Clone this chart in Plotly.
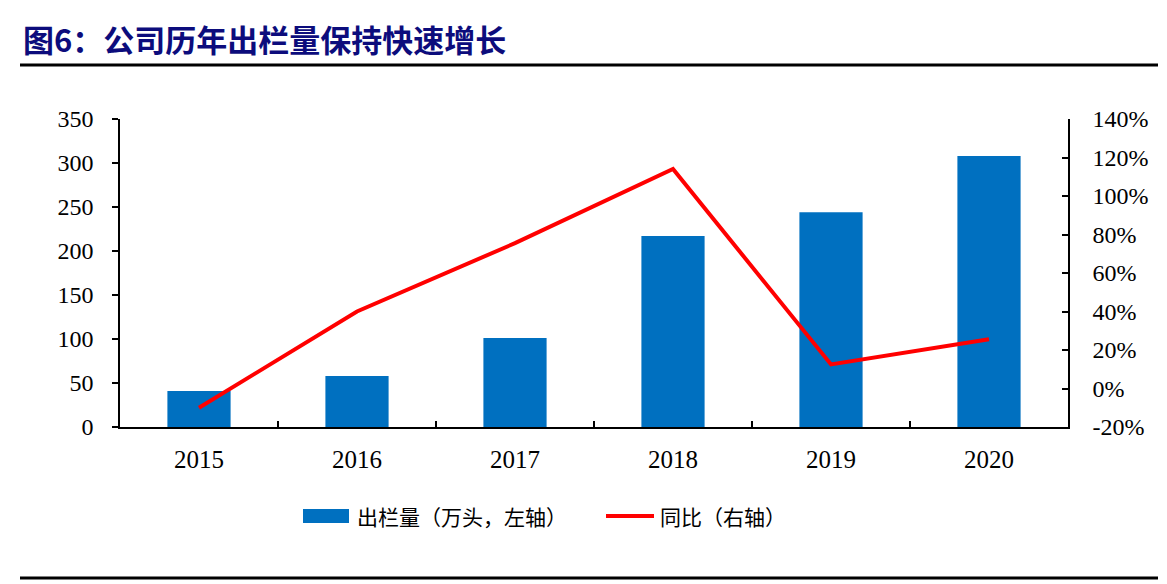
import plotly.graph_objects as go

years = ["2015", "2016", "2017", "2018", "2019", "2020"]
output_10k = [41, 58, 101, 217, 244, 308]          # 出栏量（万头）
yoy_pct = [-10, 40, 75.5, 114, 12.5, 25.6]         # 同比 (%)
right_ticks = [-20, 0, 20, 40, 60, 80, 100, 120, 140]

bar_name = "出栏量（万头，左轴）"
line_name = "同比（右轴）"
title_text = "图6：公司历年出栏量保持快速增长"

BLUE = "#0070C0"
RED = "#FF0000"
NAVY = "#0c0c7c"
SERIF = "Liberation Serif, Times New Roman, serif"
CJK = "Noto Sans CJK SC, Noto Sans, sans-serif"

fig = go.Figure()
fig.add_trace(go.Bar(x=years, y=output_10k, name=bar_name, marker=dict(color=BLUE, line=dict(width=0)),
                     width=0.4, yaxis="y", showlegend=False))
fig.add_trace(go.Scatter(x=years, y=yoy_pct, name=line_name, mode="lines",
                         line=dict(color=RED, width=4), yaxis="y2", showlegend=False))

W, H = 1167, 584
L, R, T, B = 120, 1068, 119, 427


def px(p):
    return (p - L) / (R - L)


def py(p):
    return (B - p) / (B - T)


shapes = [
    dict(type="line", xref="paper", yref="paper", x0=px(20), x1=px(1158), y0=py(65), y1=py(65),
         line=dict(color="black", width=3)),
    dict(type="line", xref="paper", yref="paper", x0=px(20), x1=px(1158), y0=py(578), y1=py(578),
         line=dict(color="black", width=3)),
    dict(type="rect", xref="paper", yref="paper", x0=px(303), x1=px(349), y0=py(523), y1=py(509),
         fillcolor=BLUE, line=dict(width=0)),
    dict(type="line", xref="paper", yref="paper", x0=px(606), x1=px(654), y0=py(516), y1=py(516),
         line=dict(color=RED, width=4)),
]

annotations = [
    dict(text="<b>" + title_text + "</b>", xref="paper", yref="paper", x=px(21), y=py(39),
         xanchor="left", yanchor="middle", showarrow=False, font=dict(family=CJK, size=31, color=NAVY)),
    dict(text=bar_name, xref="paper", yref="paper", x=px(355), y=py(516),
         xanchor="left", yanchor="middle", showarrow=False, font=dict(family=CJK, size=21, color="black")),
    dict(text=line_name, xref="paper", yref="paper", x=px(658), y=py(516),
         xanchor="left", yanchor="middle", showarrow=False, font=dict(family=CJK, size=21, color="black")),
]

fig.update_layout(
    width=W, height=H,
    margin=dict(l=L, r=W - R, t=T, b=H - B, pad=0),
    paper_bgcolor="white", plot_bgcolor="white",
    showlegend=False,
    xaxis=dict(type="category", showline=True, linecolor="black", linewidth=1.5,
               ticks="inside", tickson="boundaries", ticklen=6, tickcolor="black", tickwidth=1.5,
               tickfont=dict(family=SERIF, size=25, color="black"), showgrid=False, zeroline=False,
               ticklabelstandoff=9),
    yaxis=dict(range=[0, 350], dtick=50, showline=True, linecolor="black", linewidth=1.5,
               ticks="outside", ticklen=6, tickcolor="black", tickwidth=1.5,
               tickfont=dict(family=SERIF, size=24, color="black"), showgrid=False, zeroline=False,
               ticklabelstandoff=14),
    yaxis2=dict(range=[-20, 140], tickvals=right_ticks, ticktext=[f"{v}%" for v in right_ticks],
                overlaying="y", side="right",
                showline=True, linecolor="black", linewidth=1.5,
                ticks="inside", ticklen=6, tickcolor="black", tickwidth=1.5,
                tickfont=dict(family=SERIF, size=24, color="black"), showgrid=False, zeroline=False,
                ticklabelstandoff=18),
    shapes=shapes,
    annotations=annotations,
)

fig.write_html("out.html", config={"displayModeBar": False},
               post_script="document.body.style.margin='0px';document.body.style.overflow='hidden';")
